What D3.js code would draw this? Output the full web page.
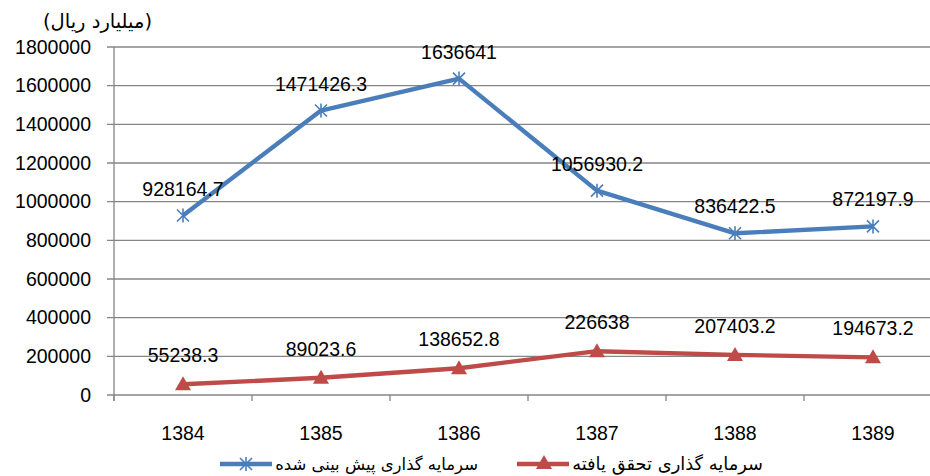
<!DOCTYPE html>
<html><head><meta charset="utf-8">
<script src="https://cdn.jsdelivr.net/npm/d3@7"></script>
<style>body{margin:0;background:#fff}svg{display:block}</style>
</head><body>
<svg id="c" width="930" height="476"></svg>
<script>
const years = ["1384","1385","1386","1387","1388","1389"];
const forecast = [928164.7, 1471426.3, 1636641, 1056930.2, 836422.5, 872197.9];
const realized = [55238.3, 89023.6, 138652.8, 226638, 207403.2, 194673.2];
const yTicks = [0,200000,400000,600000,800000,1000000,1200000,1400000,1600000,1800000];
const seriesNames = ["سرمایه گذاری پیش بینی شده","سرمایه گذاری تحقق یافته"];
const unitLabel = "(میلیارد ریال)";

(function(){
const svg = d3.select("#c");
const numFont = "'Liberation Sans', Arial, sans-serif";
const faFont = "'DejaVu Sans', sans-serif";
const pL = 114, pR = 942, pT = 47, pB = 395;
const grid = "#868686";
const blue = "#4A7EBB", red = "#BE4B48";

const x = d3.scaleBand().domain(years).range([pL, pR]);
const y = d3.scaleLinear().domain([0,1800000]).range([pB, pT]);

svg.append("g").selectAll("line").data(yTicks).join("line")
  .attr("x1", pL-7).attr("x2", pR).attr("y1", d=>y(d)).attr("y2", d=>y(d))
  .attr("stroke", grid).attr("stroke-width", 1.3);

const yAxis = svg.append("g").attr("transform", `translate(${pL},0)`)
  .call(d3.axisLeft(y).tickValues(yTicks).tickFormat(d3.format("d")).tickSize(0).tickPadding(23));
yAxis.select(".domain").remove();
yAxis.selectAll("text").attr("font-family", numFont).attr("font-size", 19.5).attr("fill", "#000");
svg.append("line").attr("x1", pL).attr("x2", pL).attr("y1", pT).attr("y2", pB+6)
  .attr("stroke", grid).attr("stroke-width", 1.3);

const xAxis = svg.append("g").attr("transform", `translate(0,${pB})`)
  .call(d3.axisBottom(x).tickSize(0).tickPadding(31));
xAxis.select(".domain").remove();
xAxis.selectAll("text").attr("font-family", numFont).attr("font-size", 19.5).attr("fill", "#000");
const bounds = years.map(d => x(d)).concat([x(years[years.length-1]) + x.bandwidth()]);
svg.append("g").selectAll("line").data(bounds).join("line")
  .attr("x1", d=>d).attr("x2", d=>d).attr("y1", pB).attr("y2", pB+6)
  .attr("stroke", grid).attr("stroke-width", 1.3);

const cx = d => x(d) + x.bandwidth()/2;
const line = d3.line().x((d,i)=>cx(years[i])).y(d=>y(d));

function star(g, px, py, col){
  const s = 6;
  g.append("path").attr("d",
    `M${px-s},${py-s}L${px+s},${py+s}M${px-s},${py+s}L${px+s},${py-s}M${px},${py-s-1}L${px},${py+s+1}`)
    .attr("stroke", col).attr("stroke-width", 1.6).attr("fill","none");
}
function tri(g, px, py, col){
  g.append("path").attr("d", `M${px},${py-9}L${px+8},${py+5}L${px-8},${py+5}Z`).attr("fill", col);
}

svg.append("path").datum(forecast).attr("d", line).attr("fill","none")
  .attr("stroke", blue).attr("stroke-width", 4.4).attr("stroke-linejoin","round");
svg.append("path").datum(realized).attr("d", line).attr("fill","none")
  .attr("stroke", red).attr("stroke-width", 4.4).attr("stroke-linejoin","round");

const mk = svg.append("g");
forecast.forEach((v,i)=>star(mk, cx(years[i]), y(v), blue));
realized.forEach((v,i)=>tri(mk, cx(years[i]), y(v)+1, red));

const lab = svg.append("g").attr("font-family", numFont).attr("font-size", 19.5).attr("text-anchor","middle").attr("fill","#000");
forecast.forEach((v,i)=>lab.append("text").attr("x", cx(years[i])).attr("y", y(v)-20).text(String(v)));
realized.forEach((v,i)=>lab.append("text").attr("x", cx(years[i])).attr("y", y(v)-22).text(String(v)));

// fit Persian text to a target width
function fitText(t, base, target){
  t.attr("font-size", base);
  const w = t.node().getComputedTextLength();
  if (w > 0) t.attr("font-size", (base * target / w).toFixed(2));
}

const ul = svg.append("text").attr("x", 97.5).attr("y", 28).attr("text-anchor","middle")
  .attr("font-family", faFont).attr("direction","rtl").text(unitLabel);
fitText(ul, 15, 109);

const lg = svg.append("g");
lg.append("line").attr("x1",220).attr("x2",272).attr("y1",464).attr("y2",464).attr("stroke",blue).attr("stroke-width",4.4);
star(lg, 246, 464, blue);
const t1 = lg.append("text").attr("x",478).attr("y",470).attr("text-anchor","end").attr("direction","ltr")
  .attr("font-family", faFont).text(seriesNames[0]);
fitText(t1, 15, 203);
lg.append("line").attr("x1",517).attr("x2",569).attr("y1",464).attr("y2",464).attr("stroke",red).attr("stroke-width",4.4);
tri(lg, 544, 464, red);
const t2 = lg.append("text").attr("x",763).attr("y",470).attr("text-anchor","end").attr("direction","ltr")
  .attr("font-family", faFont).text(seriesNames[1]);
fitText(t2, 15, 191);
})();
</script>
</body></html>
